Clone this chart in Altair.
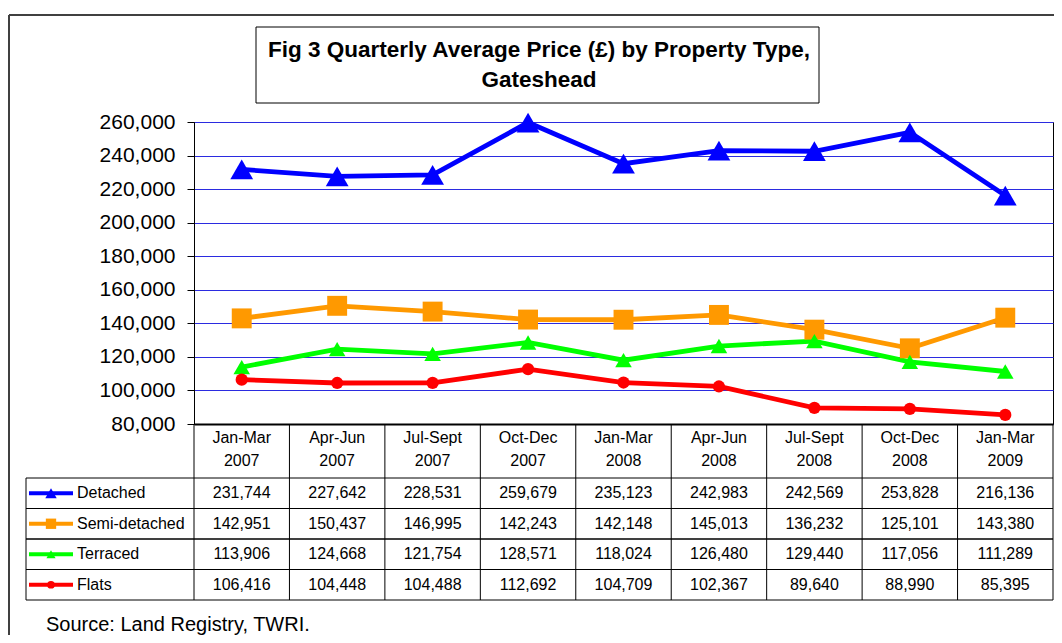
import altair as alt
import pandas as pd

# ---- data ----
categories = ["Jan-Mar 2007", "Apr-Jun 2007", "Jul-Sept 2007", "Oct-Dec 2007",
              "Jan-Mar 2008", "Apr-Jun 2008", "Jul-Sept 2008", "Oct-Dec 2008",
              "Jan-Mar 2009"]
series_names = ["Detached", "Semi-detached", "Terraced", "Flats"]
detached = [231744, 227642, 228531, 259679, 235123, 242983, 242569, 253828, 216136]
semi_detached = [142951, 150437, 146995, 142243, 142148, 145013, 136232, 125101, 143380]
terraced = [113906, 124668, 121754, 128571, 118024, 126480, 129440, 117056, 111289]
flats = [106416, 104448, 104488, 112692, 104709, 102367, 89640, 88990, 85395]
y_ticks = [80000, 100000, 120000, 140000, 160000, 180000, 200000, 220000, 240000, 260000]
title_lines = ["Fig 3 Quarterly Average Price (£) by Property Type,", "Gateshead"]
source_text = "Source: Land Registry, TWRI."

colors = ["#0000FF", "#FF9900", "#00FF00", "#FF0000"]
shapes = ["triangle-up", "square", "triangle-up", "circle"]

rows = []
for name, vals in zip(series_names, [detached, semi_detached, terraced, flats]):
    for c, v in zip(categories, vals):
        rows.append({"cat": c, "series": name, "value": v})
df = pd.DataFrame(rows)
df_series = pd.DataFrame({"series": series_names})
df_cats = pd.DataFrame({"cat": categories})
df_one = pd.DataFrame({"k": [0]})

# ---- layout ----
W, H = 859, 302
HDR_BOTTOM = 356
TABLE_BOTTOM = 478
LEFT_COL = -168

xscale = alt.Scale(type="band", domain=categories, paddingInner=0, paddingOuter=0)
yscale = alt.Scale(domain=[80000, 260000], nice=False, zero=False)
colscale = alt.Scale(domain=series_names, range=colors)
shapescale = alt.Scale(domain=series_names, range=shapes)
rowscale = alt.Scale(type="band", domain=series_names, range=[HDR_BOTTOM, TABLE_BOTTOM],
                     paddingInner=0, paddingOuter=0)

x_center = alt.X("cat:N", scale=xscale, bandPosition=0.5, title=None,
                 axis=alt.Axis(labelExpr="split(datum.label, ' ')", labelFontSize=16,
                               labelColor="#000000", labelLineHeight=23,
                               labelBaseline="top", labelPadding=5, ticks=False,
                               labelAngle=0, domainColor="#000000", domainWidth=2,
                               grid=False))

lines = alt.Chart(df).mark_line(strokeWidth=4.8).encode(
    x=x_center,
    y=alt.Y("value:Q", scale=yscale, title=None,
            axis=alt.Axis(values=y_ticks, tickCount=20, format=",.0f", labelFontSize=21,
                          labelColor="#000000", labelOverlap=False,
                          tickSize=7, tickColor="#000000", labelPadding=12,
                          domainColor="#000000", grid=True, gridColor="#2B2BE0",
                          gridWidth=1)),
    color=alt.Color("series:N", scale=colscale, legend=None),
)

points = alt.Chart(df).mark_point(filled=True, opacity=1).encode(
    x=alt.X("cat:N", scale=xscale, bandPosition=0.5),
    y=alt.Y("value:Q", scale=yscale, axis=None),
    color=alt.Color("series:N", scale=colscale, legend=None),
    shape=alt.Shape("series:N", scale=shapescale, legend=None),
    size=alt.Size("series:N", scale=alt.Scale(domain=series_names, range=[520, 150, 480, 190]),
                  legend=None),
)

# table cells
cells = alt.Chart(df).mark_text(fontSize=16, color="#000000", baseline="middle", align="center").encode(
    x=alt.X("cat:N", scale=xscale, bandPosition=0.5),
    y=alt.Y("series:N", scale=rowscale, axis=None, bandPosition=0.5),
    text=alt.Text("value:Q", format=",.0f"),
)

hlines_top = alt.Chart(df_series).mark_rule(color="#000000", strokeWidth=1).encode(
    y=alt.Y("series:N", scale=rowscale, axis=None, bandPosition=0),
    x=alt.value(LEFT_COL), x2=alt.value(W),
)
hlines_bot = alt.Chart(df_series).mark_rule(color="#000000", strokeWidth=1).encode(
    y=alt.Y("series:N", scale=rowscale, axis=None, bandPosition=1),
    x=alt.value(LEFT_COL), x2=alt.value(W),
)
vlines = alt.Chart(df_cats).mark_rule(color="#000000", strokeWidth=1).encode(
    x=alt.X("cat:N", scale=xscale, bandPosition=0),
    y=alt.value(H), y2=alt.value(TABLE_BOTTOM),
)
vline_right = alt.Chart(df_one).mark_rule(color="#000000", strokeWidth=1).encode(
    x=alt.value(W), y=alt.value(H), y2=alt.value(TABLE_BOTTOM),
)
vline_left = alt.Chart(df_one).mark_rule(color="#000000", strokeWidth=1).encode(
    x=alt.value(LEFT_COL), y=alt.value(HDR_BOTTOM), y2=alt.value(TABLE_BOTTOM),
)

# legend column
leg_line = alt.Chart(df_series).mark_rule(strokeWidth=4).encode(
    y=alt.Y("series:N", scale=rowscale, axis=None, bandPosition=0.5),
    x=alt.value(-165), x2=alt.value(-121),
    color=alt.Color("series:N", scale=colscale, legend=None),
)
leg_pt = alt.Chart(df_series).mark_point(filled=True, opacity=1).encode(
    y=alt.Y("series:N", scale=rowscale, axis=None, bandPosition=0.5),
    x=alt.value(-143),
    color=alt.Color("series:N", scale=colscale, legend=None),
    shape=alt.Shape("series:N", scale=shapescale, legend=None),
    size=alt.Size("series:N", scale=alt.Scale(domain=series_names, range=[130, 60, 130, 70]),
                  legend=None),
)
leg_txt = alt.Chart(df_series).mark_text(fontSize=16, align="left", baseline="middle",
                                         color="#000000").encode(
    y=alt.Y("series:N", scale=rowscale, axis=None, bandPosition=0.5),
    x=alt.value(-117),
    text="series:N",
)

# title box, frame, source
title_box = alt.Chart(df_one).mark_rect(fill="#FFFFFF", stroke="#000000", strokeWidth=1).encode(
    x=alt.value(62), x2=alt.value(625), y=alt.value(-95), y2=alt.value(-19),
)
title_txt = alt.Chart(df_one).mark_text(text=title_lines, fontSize=22.5, fontWeight="bold",
                                        lineHeight=30, align="center", baseline="middle",
                                        color="#000000").encode(
    x=alt.value(345), y=alt.value(-72),
)
frame_top = alt.Chart(df_one).mark_rule(color="#404040", strokeWidth=2).encode(
    x=alt.value(-185), x2=alt.value(W + 2), y=alt.value(-107),
)
frame_left = alt.Chart(df_one).mark_rule(color="#404040", strokeWidth=2).encode(
    x=alt.value(-185), y=alt.value(-107), y2=alt.value(530),
)
source = alt.Chart(df_one).mark_text(text=source_text, fontSize=20, align="left",
                                     baseline="middle", color="#000000").encode(
    x=alt.value(-148), y=alt.value(503),
)

chart = alt.layer(
    frame_top, frame_left, title_box, title_txt, source,
    lines, points, cells, hlines_top, hlines_bot, vlines, vline_right, vline_left,
    leg_line, leg_pt, leg_txt,
).resolve_scale(y="independent", size="independent").properties(
    width=W, height=H,
    autosize=alt.AutoSizeParams(type="none"),
    padding={"left": 186, "top": 114, "right": 1, "bottom": 211},
    background="#FFFFFF",
).configure(font="Liberation Sans").configure_view(stroke="#000000", strokeWidth=1)

chart.save("out.html", embed_options={"renderer": "svg", "actions": False})
